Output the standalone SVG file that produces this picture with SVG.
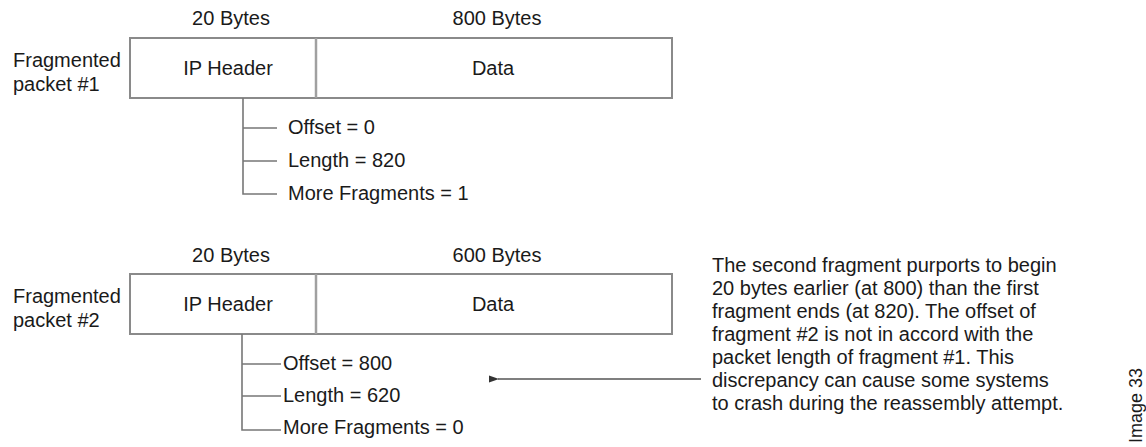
<svg xmlns="http://www.w3.org/2000/svg" width="1146" height="447" viewBox="0 0 1146 447">
<style>
text{font-family:"Liberation Sans",Arial,sans-serif;font-size:20px;fill:#1a1a1a}
.c{text-anchor:middle}
.box{fill:#fff;stroke:#8a8a8a;stroke-width:2}
.div{stroke:#a0a0a0;stroke-width:2.5}
.tree{fill:none;stroke:#777;stroke-width:1.6}
.arrow{stroke:#555;stroke-width:1.5}
</style>
<defs>
<marker id="ah" viewBox="0 0 10 8" refX="1" refY="4" markerWidth="10" markerHeight="8" markerUnits="userSpaceOnUse" orient="auto-start-reverse">
<path d="M0,4 L10,0.5 L10,7.5 Z" fill="#333"/>
</marker>
</defs>
<rect width="1146" height="447" fill="#fff"/>
<g id="packet1">
<text x="13" y="67">Fragmented</text>
<text x="13" y="91">packet #1</text>
<text class="c" x="231" y="25">20 Bytes</text>
<text class="c" x="497" y="25">800 Bytes</text>
<rect class="box" x="130" y="38" width="542" height="60"/>
<line class="div" x1="316" y1="38" x2="316" y2="98"/>
<text class="c" x="228" y="75">IP Header</text>
<text class="c" x="493" y="75">Data</text>
</g>
<g id="fields1">
<path class="tree" d="M243,98 V194 H277 M243,128 H277 M243,161 H277"/>
<text x="288" y="134">Offset = 0</text>
<text x="288" y="167">Length = 820</text>
<text x="288" y="200">More Fragments = 1</text>
</g>
<g id="packet2">
<text x="13" y="303">Fragmented</text>
<text x="13" y="327">packet #2</text>
<text class="c" x="231" y="262">20 Bytes</text>
<text class="c" x="497" y="262">600 Bytes</text>
<rect class="box" x="130" y="274" width="542" height="60"/>
<line class="div" x1="316" y1="274" x2="316" y2="334"/>
<text class="c" x="228" y="311">IP Header</text>
<text class="c" x="493" y="311">Data</text>
</g>
<g id="fields2">
<path class="tree" d="M242,334 V430 H281 M242,364 H281 M242,396 H281"/>
<text x="283" y="370">Offset = 800</text>
<text x="283" y="402">Length = 620</text>
<text x="283" y="434">More Fragments = 0</text>
</g>
<g id="note">
<text x="712" y="272">The second fragment purports to begin</text>
<text x="712" y="295">20 bytes earlier (at 800) than the first</text>
<text x="712" y="318">fragment ends (at 820). The offset of</text>
<text x="712" y="341">fragment #2 is not in accord with the</text>
<text x="712" y="364">packet length of fragment #1. This</text>
<text x="712" y="387">discrepancy can cause some systems</text>
<text x="712" y="410">to crash during the reassembly attempt.</text>
</g>
<g id="connectors">
<line class="arrow" x1="701" y1="379" x2="498" y2="379" marker-end="url(#ah)"/>
</g>
<text x="1142" y="443" font-size="18" transform="rotate(-90 1142 443)" style="font-size:18px">Image 33</text>
</svg>
